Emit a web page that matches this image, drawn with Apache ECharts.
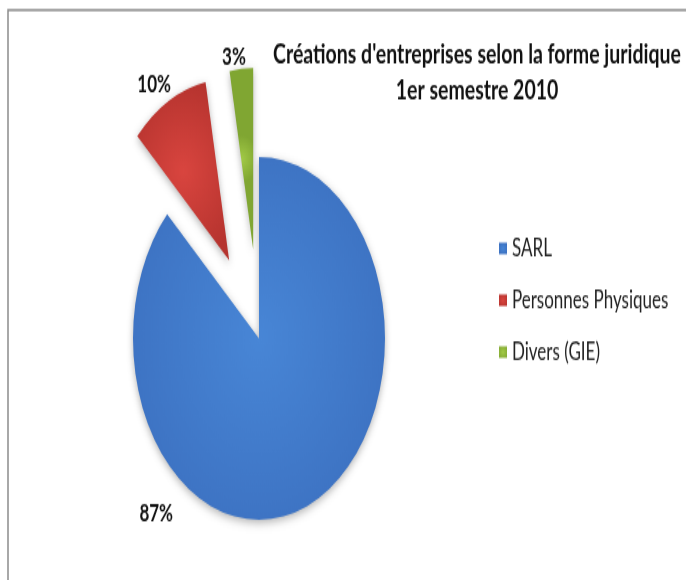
<!DOCTYPE html>
<html>
<head>
<meta charset="utf-8">
<script src="https://cdn.jsdelivr.net/npm/echarts@6/dist/echarts.min.js"></script>
<style>
  html, body { margin: 0; padding: 0; background: #fff; }
  #wrap { width: 686px; height: 580px; overflow: hidden; position: relative; }
  /* the reference picture is stretched vertically, so the chart is drawn flat and scaled */
  #chart { position: absolute; left: 0; top: 0; width: 686px; height: 403px; transform: scaleY(1.44); transform-origin: 0 0; }
</style>
</head>
<body>
<div id="wrap"><div id="chart"></div></div>
<script>
// data
const categories = ['SARL', 'Personnes Physiques', 'Divers (GIE)'];
const values = [87, 10, 3];
const exploded = [false, true, true];
const titleLines = ["Créations d'entreprises selon la forme juridique", '1er semestre 2010'];

const colors = [
  ['#4886d6', '#3a6dbd'],
  ['#d9453f', '#b5332e'],
  ['#a2ca46', '#80a632']
];
// nudges so the percent labels sit where Excel put them
const labelShift = [[-129, 61], [10, -7], [10, -3]];

function grad(c) {
  return {
    type: 'radial', x: 0.5, y: 0.5, r: 0.7,
    colorStops: [{ offset: 0, color: c[0] }, { offset: 1, color: c[1] }]
  };
}

const chart = echarts.init(document.getElementById('chart'));

const seriesData = categories.map(function (name, i) {
  return {
    name: name,
    value: values[i],
    selected: exploded[i],
    itemStyle: { color: grad(colors[i]) },
    label: { position: i === 0 ? 'inside' : 'outside' }
  };
});

chart.setOption({
  animation: false,
  backgroundColor: '#fff',
  graphic: [{
    type: 'rect',
    shape: { x: 8, y: 7, width: 720, height: 500 },
    style: { fill: 'none', stroke: '#8c8c8c', lineWidth: 1.5 }
  }],
  title: {
    text: titleLines.join('\n'),
    left: 477,
    top: 25,
    padding: 0,
    textAlign: 'center',
    textStyle: {
      fontFamily: 'Lato',
      fontWeight: 'bold',
      fontSize: 19.5,
      lineHeight: 25,
      color: '#111'
    }
  },
  legend: {
    orient: 'vertical',
    left: 494,
    top: 159,
    icon: 'rect',
    itemWidth: 8,
    itemHeight: 8,
    itemGap: 19,
    data: categories,
    textStyle: { fontFamily: 'Lato', fontSize: 17, color: '#222' }
  },
  series: [{
    type: 'pie',
    center: [259, 235],
    radius: 126,
    startAngle: 90,
    clockwise: true,
    selectedMode: 'multiple',
    selectedOffset: 62,
    avoidLabelOverlap: false,
    select: { itemStyle: {} },
    itemStyle: {
      shadowBlur: 6,
      shadowColor: 'rgba(0,0,0,0.3)',
      shadowOffsetY: 2
    },
    label: {
      show: true,
      position: 'outside',
      formatter: '{d}%',
      fontFamily: 'Lato',
      fontWeight: 'bold',
      fontSize: 17,
      color: '#111'
    },
    labelLine: { show: false, length: 5, length2: 0 },
    labelLayout: function (params) {
      const s = labelShift[params.dataIndex];
      return { dx: s[0], dy: s[1] };
    },
    emphasis: { disabled: true },
    data: seriesData
  }]
});
</script>
</body>
</html>
